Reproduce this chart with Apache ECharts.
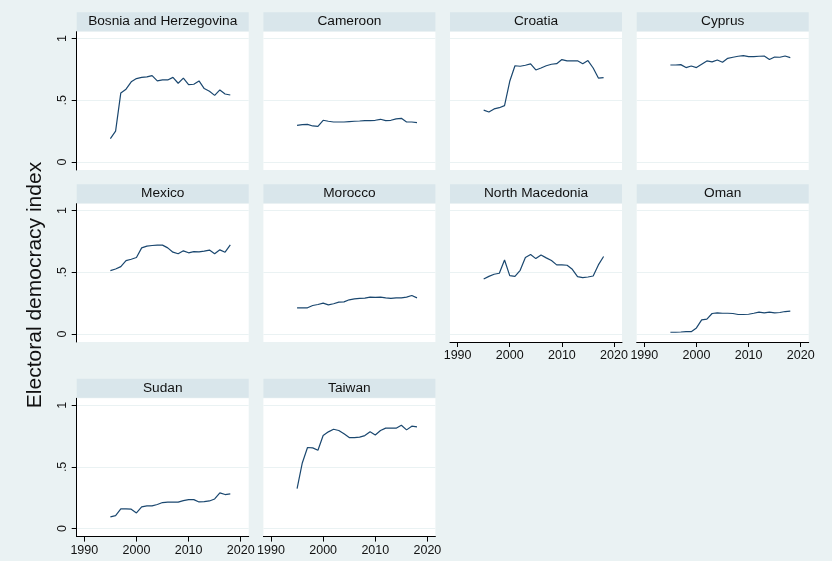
<!DOCTYPE html>
<html>
<head>
<meta charset="utf-8">
<title>Electoral democracy index</title>
<script src="https://cdn.jsdelivr.net/npm/echarts@6/dist/echarts.min.js"></script>
<style>
  html, body { margin: 0; padding: 0; background: #EAF2F3; }
  #chart { width: 832px; height: 561px; }
</style>
</head>
<body>
<div id="chart"></div>
<script>
// Years covered by every country series
const years = [1995, 1996, 1997, 1998, 1999, 2000, 2001, 2002, 2003, 2004, 2005, 2006,
               2007, 2008, 2009, 2010, 2011, 2012, 2013, 2014, 2015, 2016, 2017, 2018];

const countries = ['Bosnia and Herzegovina', 'Cameroon', 'Croatia', 'Cyprus',
                   'Mexico', 'Morocco', 'North Macedonia', 'Oman', 'Sudan', 'Taiwan'];

// Electoral democracy index by country, 1995-2018
const bosnia = [0.19, 0.25, 0.56, 0.59, 0.65, 0.676, 0.686, 0.69, 0.70, 0.657, 0.665, 0.665,
                0.686, 0.638, 0.68, 0.627, 0.63, 0.657, 0.595, 0.573, 0.54, 0.584, 0.551, 0.543];
const cameroon = [0.297, 0.303, 0.305, 0.292, 0.289, 0.338, 0.33, 0.324, 0.324, 0.324, 0.327, 0.33,
                  0.332, 0.335, 0.335, 0.338, 0.346, 0.335, 0.338, 0.349, 0.354, 0.324, 0.324, 0.319];
const croatia = [0.42, 0.405, 0.43, 0.44, 0.457, 0.654, 0.78, 0.776, 0.784, 0.795, 0.746, 0.762,
                 0.78, 0.792, 0.797, 0.83, 0.82, 0.82, 0.82, 0.797, 0.822, 0.762, 0.68, 0.684];
const cyprus = [0.786, 0.786, 0.789, 0.765, 0.778, 0.765, 0.792, 0.819, 0.811, 0.827, 0.808, 0.84,
                0.849, 0.857, 0.862, 0.854, 0.854, 0.857, 0.859, 0.83, 0.851, 0.849, 0.859, 0.846];
const mexico = [0.514, 0.527, 0.546, 0.595, 0.606, 0.62, 0.698, 0.712, 0.717, 0.72, 0.72, 0.698,
                0.663, 0.65, 0.674, 0.658, 0.668, 0.666, 0.671, 0.68, 0.65, 0.682, 0.663, 0.723];
const morocco = [0.212, 0.212, 0.212, 0.231, 0.239, 0.25, 0.236, 0.245, 0.258, 0.26, 0.277, 0.285,
                 0.288, 0.29, 0.299, 0.296, 0.299, 0.293, 0.288, 0.293, 0.293, 0.299, 0.312, 0.293];
const northMacedonia = [0.446, 0.467, 0.484, 0.492, 0.60, 0.473, 0.467, 0.516, 0.62, 0.644, 0.611, 0.641,
                        0.617, 0.595, 0.56, 0.56, 0.557, 0.524, 0.465, 0.457, 0.462, 0.47, 0.56, 0.628];
const oman = [0.014, 0.014, 0.016, 0.019, 0.019, 0.049, 0.114, 0.12, 0.166, 0.171, 0.168, 0.168,
              0.166, 0.158, 0.158, 0.16, 0.168, 0.177, 0.171, 0.177, 0.171, 0.174, 0.182, 0.185];
const sudan = [0.095, 0.105, 0.159, 0.159, 0.157, 0.127, 0.176, 0.184, 0.184, 0.195, 0.211, 0.214,
               0.214, 0.214, 0.227, 0.235, 0.235, 0.216, 0.219, 0.224, 0.24, 0.289, 0.276, 0.281];
const taiwan = [0.324, 0.532, 0.657, 0.654, 0.635, 0.754, 0.784, 0.805, 0.795, 0.768, 0.738, 0.738,
                0.741, 0.754, 0.784, 0.759, 0.795, 0.814, 0.814, 0.814, 0.838, 0.80, 0.83, 0.824];

const seriesValues = [bosnia, cameroon, croatia, cyprus, mexico, morocco,
                      northMacedonia, oman, sudan, taiwan];

// Axis ticks
const xTicks = [1990, 2000, 2010, 2020];
const yTicks = [0, 0.5, 1];
const yTickLabels = ['0', '.5', '1'];

// Panel layout (pixels)
const colLeft = [76.7, 263.4, 450, 636.7];
const panelWidth = 172;
const rowPlotTop = [31.7, 203.7, 398.3];
const plotHeight = 138.3;
const stripHeight = 19;

const BG = '#EAF2F3';
const STRIP = '#D9E6EB';
const LINE = '#1A476F';
const FONT = 'Liberation Sans, Arial, sans-serif';

const grids = [], xAxes = [], yAxes = [], series = [], graphics = [];

countries.forEach((name, i) => {
  const row = Math.floor(i / 4);
  const col = i % 4;
  const left = colLeft[col];
  const top = rowPlotTop[row];
  // x-axis shown on the lowest panel of each column
  const showX = (row === 2) || (row === 1 && col >= 2);
  const showY = col === 0;

  grids.push({
    left: left, top: top, width: panelWidth, height: plotHeight,
    show: true, backgroundColor: '#FFFFFF', borderWidth: 0
  });

  xAxes.push({
    type: 'value', gridIndex: i, min: 1988.54, max: 2021.53,
    axisLine: { show: showX, onZero: false, lineStyle: { color: '#000', width: 1 } },
    axisTick: { show: showX, length: 5, customValues: xTicks, lineStyle: { color: '#000' } },
    axisLabel: { show: showX, customValues: xTicks, margin: 7, color: '#111',
                 fontSize: 12.5, fontFamily: FONT, formatter: v => String(v) },
    splitLine: { show: false }
  });

  yAxes.push({
    type: 'value', gridIndex: i, min: -0.065, max: 1.056,
    axisLine: { show: showY, onZero: false, lineStyle: { color: '#000', width: 1 } },
    axisTick: { show: showY, length: 5, customValues: yTicks, lineStyle: { color: '#000' } },
    axisLabel: { show: showY, customValues: yTicks, rotate: 90, margin: 8, color: '#111',
                 fontSize: 12.5, fontFamily: FONT,
                 formatter: v => yTickLabels[yTicks.indexOf(v)] },
    splitLine: { show: true, lineStyle: { color: BG, width: 1 } }
  });

  series.push({
    type: 'line', xAxisIndex: i, yAxisIndex: i,
    data: years.map((y, k) => [y, seriesValues[i][k]]),
    showSymbol: false, symbol: 'none', silent: true,
    lineStyle: { color: LINE, width: 1.2 }
  });

  // Panel title strip
  graphics.push({
    type: 'rect', silent: true,
    shape: { x: left, y: top - stripHeight - 0.5, width: panelWidth, height: stripHeight },
    style: { fill: STRIP }
  });
  graphics.push({
    type: 'text', silent: true,
    x: left + panelWidth / 2, y: top - stripHeight / 2 - 0.5,
    style: { text: name, fill: '#111', font: '13.7px ' + FONT,
             textAlign: 'center', textVerticalAlign: 'middle' }
  });
});

// Shared y-axis title
graphics.push({
  type: 'text', silent: true,
  x: 35, y: 285, rotation: Math.PI / 2,
  style: { text: 'Electoral democracy index', fill: '#111', font: '21px ' + FONT,
           textAlign: 'center', textVerticalAlign: 'middle' }
});

const chart = echarts.init(document.getElementById('chart'), null, { renderer: 'canvas' });
chart.setOption({
  backgroundColor: BG,
  animation: false,
  grid: grids,
  xAxis: xAxes,
  yAxis: yAxes,
  series: series,
  graphic: graphics
});
</script>
</body>
</html>
